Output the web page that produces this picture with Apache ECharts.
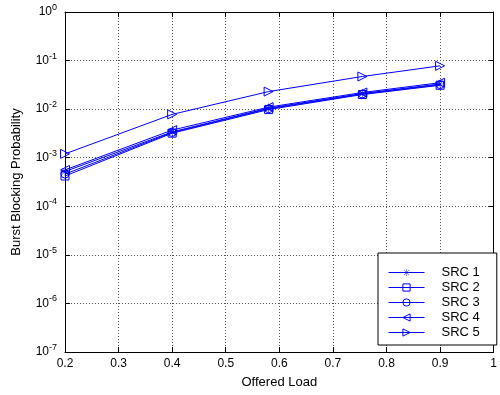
<!DOCTYPE html>
<html>
<head>
<meta charset="utf-8">
<script src="https://cdn.jsdelivr.net/npm/echarts@6/dist/echarts.min.js"></script>
<style>
  html, body { margin: 0; padding: 0; background: #fff; }
  #chart { width: 500px; height: 395px; }
</style>
</head>
<body>
<div id="chart"></div>
<script>
// offered load values (x)
const loads = [0.2, 0.4, 0.58, 0.755, 0.9];

// burst blocking probability per source
const src1 = [5.2e-4, 3.4e-3, 0.0105, 0.021, 0.033];
const src2 = [4.2e-4, 3.2e-3, 0.0098, 0.020, 0.031];
const src3 = [4.6e-4, 3.3e-3, 0.0102, 0.0205, 0.032];
const src4 = [5.6e-4, 3.7e-3, 0.0110, 0.022, 0.035];
const src5 = [1.2e-3, 7.8e-3, 0.023, 0.047, 0.078];

const names = ['SRC 1', 'SRC 2', 'SRC 3', 'SRC 4', 'SRC 5'];

// asterisk marker, drawn as thin filled bars
const asterisk = 'path://M9.4,0 L10.6,0 L10.6,20 L9.4,20 Z M0,9.4 L20,9.4 L20,10.6 L0,10.6 Z M2.6,3.4 L3.4,2.6 L17.4,16.6 L16.6,17.4 Z M16.6,2.6 L17.4,3.4 L3.4,17.4 L2.6,16.6 Z';

const blue = '#0000ff';
const clear = 'rgba(0,0,0,0)';
const font = 'Liberation Sans, Arial, sans-serif';

const markers = [
  { symbol: asterisk, rotate: 0, size: 9, fill: blue, border: 0 },
  { symbol: 'rect', rotate: 0, size: 8, fill: clear, border: 1 },
  { symbol: 'circle', rotate: 0, size: 8, fill: clear, border: 1 },
  { symbol: 'triangle', rotate: 90, size: 9, fill: clear, border: 1 },
  { symbol: 'triangle', rotate: -90, size: 9, fill: clear, border: 1 }
];

const chart = echarts.init(document.getElementById('chart'));

const makeSeries = (name, vals, i) => ({
  name: name,
  type: 'line',
  data: loads.map((x, k) => [x, vals[k]]),
  symbol: markers[i].symbol,
  symbolSize: markers[i].size,
  symbolRotate: markers[i].rotate,
  showAllSymbol: true,
  lineStyle: { color: blue, width: 1 },
  itemStyle: { color: markers[i].fill, borderColor: blue, borderWidth: markers[i].border },
  emphasis: { disabled: true },
  animation: false
});

const dotted = { show: true, lineStyle: { color: '#555', type: [1, 2], width: 1 } };

const option = {
  backgroundColor: '#fff',
  textStyle: { fontFamily: font },
  grid: { left: 65, right: 3, top: 12, bottom: 43 },
  legend: {
    orient: 'vertical',
    left: 378,
    top: 253,
    data: names.map((n, i) => ({
      name: n,
      itemStyle: { color: markers[i].fill, borderColor: blue, borderWidth: markers[i].border }
    })),
    itemWidth: 36,
    itemHeight: 9,
    itemGap: 0,
    padding: [12, 17, 5, 10],
    backgroundColor: '#fff',
    borderColor: '#000',
    borderWidth: 1,
    lineStyle: { width: 1, color: blue },
    textStyle: { color: '#000', fontSize: 13, fontFamily: font, padding: [0, 0, 0, 12], lineHeight: 15 }
  },
  xAxis: [{
    type: 'value',
    min: 0.2,
    max: 1,
    interval: 0.1,
    name: 'Offered Load',
    nameLocation: 'middle',
    nameGap: 24,
    nameTextStyle: { color: '#000', fontSize: 13, fontFamily: font },
    axisLine: { lineStyle: { color: '#000', width: 1 } },
    axisTick: { inside: true, length: 5, lineStyle: { color: '#000' } },
    axisLabel: { color: '#000', fontSize: 12, margin: 6, fontFamily: font },
    splitLine: dotted
  }, {
    type: 'value',
    position: 'top',
    min: 0.2,
    max: 1,
    interval: 0.1,
    axisLine: { show: true, lineStyle: { color: '#000', width: 1 } },
    axisTick: { inside: true, length: 5, lineStyle: { color: '#000' } },
    axisLabel: { show: false },
    splitLine: { show: false }
  }],
  yAxis: [{
    type: 'log',
    logBase: 10,
    min: 1e-7,
    max: 1,
    name: 'Burst Blocking Probability',
    nameLocation: 'middle',
    nameGap: 42,
    nameTextStyle: { color: '#000', fontSize: 13, fontFamily: font },
    axisLine: { show: true, lineStyle: { color: '#000', width: 1 } },
    axisTick: { inside: true, length: 5, lineStyle: { color: '#000' } },
    axisLabel: {
      color: '#000',
      margin: 8,
      formatter: v => '{b|10}{s|' + Math.round(Math.log10(v)) + '}',
      rich: {
        b: { fontSize: 12, fontFamily: font, color: '#000' },
        s: { fontSize: 9, fontFamily: font, color: '#000', padding: [0, 0, 9, 0] }
      }
    },
    splitLine: dotted
  }, {
    type: 'log',
    logBase: 10,
    min: 1e-7,
    max: 1,
    position: 'right',
    axisLine: { show: true, lineStyle: { color: '#000', width: 1 } },
    axisTick: { inside: true, length: 5, lineStyle: { color: '#000' } },
    axisLabel: { show: false },
    splitLine: { show: false }
  }],
  series: [src1, src2, src3, src4, src5].map((vals, i) => makeSeries(names[i], vals, i))
};

chart.setOption(option);
</script>
</body>
</html>
